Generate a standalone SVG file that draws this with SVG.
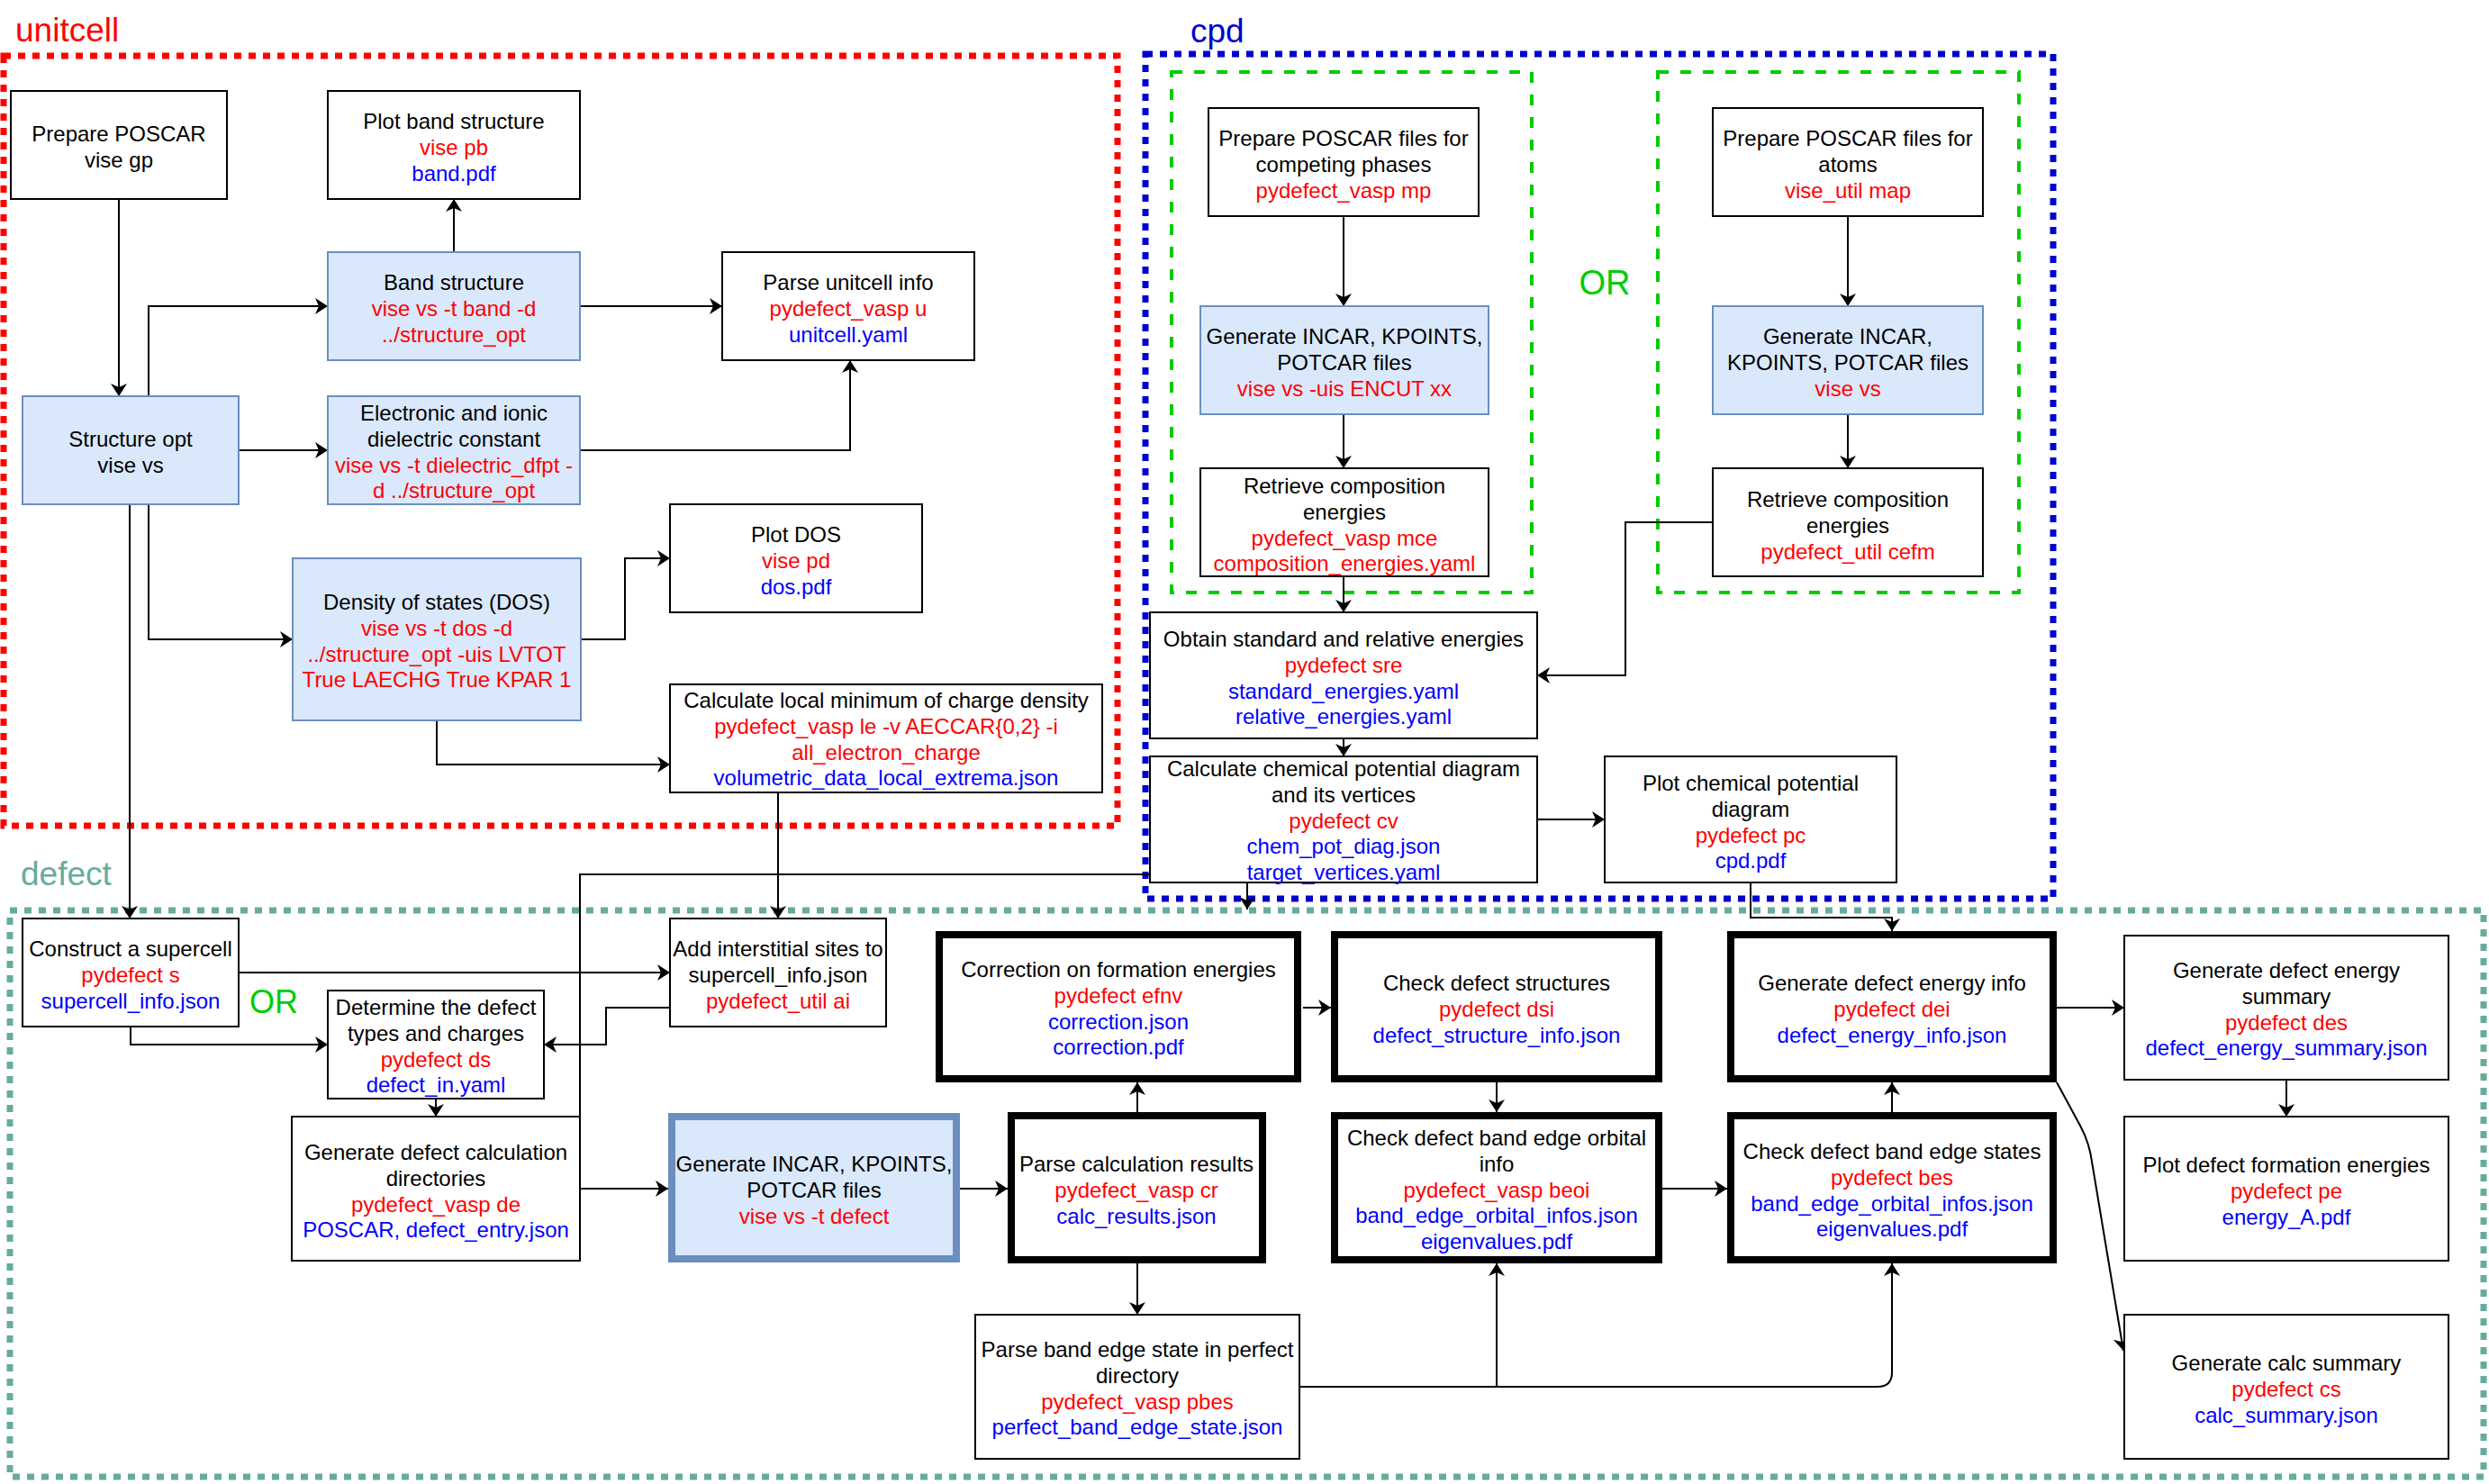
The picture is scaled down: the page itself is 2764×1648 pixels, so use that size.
<svg xmlns="http://www.w3.org/2000/svg" width="2764" height="1648" viewBox="0 0 2764 1648">
<style>
.bx{fill:#fff;stroke:#000;stroke-width:2}
.bl{fill:#DAE8FC;stroke:#6C8EBF;stroke-width:2}
.th{fill:#fff;stroke:#000;stroke-width:8}
.tb{fill:#DAE8FC;stroke:#6C8EBF;stroke-width:8}
text{font-family:"Liberation Sans",Arial,sans-serif;font-size:24px;text-anchor:middle;fill:#000}
.r{fill:#FF0000}
.u{fill:#0000FF}
.c{fill:none;stroke:#000;stroke-width:2}
.ca{fill:none;stroke:#000;stroke-width:2;marker-end:url(#arr)}
.title{font-size:37px;text-anchor:start}
</style>
<defs>
<marker id="arr" markerUnits="userSpaceOnUse" markerWidth="20" markerHeight="20" refX="14" refY="9" orient="auto">
<path d="M0,0 L14,9 L0,18 L4,9 Z" fill="#000"/>
</marker>
</defs>
<rect width="2764" height="1648" fill="#fff"/>

<g id="containers">
<rect x="4" y="62" width="1237" height="855" fill="none" stroke="#FF0000" stroke-width="7" stroke-dasharray="8 8"/>
<rect x="1272" y="60" width="1008" height="938" fill="none" stroke="#0000CC" stroke-width="7" stroke-dasharray="8 8"/>
<rect x="11" y="1011" width="2747" height="629" fill="none" stroke="#67AB9F" stroke-width="7" stroke-dasharray="8 8"/>
<rect x="1301" y="80" width="400" height="578" fill="none" stroke="#00CC00" stroke-width="4" stroke-dasharray="12 13"/>
<rect x="1841" y="80" width="401" height="578" fill="none" stroke="#00CC00" stroke-width="4" stroke-dasharray="12 13"/>
<text class="title" x="17" y="46" style="fill:#FF0000">unitcell</text>
<text class="title" x="1322" y="47" style="fill:#0000CC">cpd</text>
<text class="title" x="23" y="983" style="fill:#67AB9F">defect</text>
<text x="1782" y="327" style="font-size:38px;fill:#00CC00">OR</text>
<text x="304" y="1125" style="font-size:36px;fill:#00CC00">OR</text>
</g>

<g id="connectors">
<path class="ca" d="M132,221 V440"/>
<path class="ca" d="M165,440 V340 H364"/>
<path class="ca" d="M504,280 V221"/>
<path class="ca" d="M265,500 H364"/>
<path class="ca" d="M644,340 H802"/>
<path class="ca" d="M644,500 H944 V400"/>
<path class="ca" d="M165,560 V710 H325"/>
<path class="ca" d="M645,710 H694 V620 H744"/>
<path class="ca" d="M485,800 V849 H744"/>
<path class="ca" d="M144,560 V1020"/>
<path class="ca" d="M864,880 V1020"/>
<path class="ca" d="M1492,240 V340"/>
<path class="ca" d="M1492,460 V520"/>
<path class="ca" d="M2052,240 V340"/>
<path class="ca" d="M2052,460 V520"/>
<path class="ca" d="M1492,640 V680"/>
<path class="ca" d="M1902,580 H1805 V750 H1707"/>
<path class="ca" d="M1492,820 V840"/>
<path class="ca" d="M1707,910 H1782"/>
<path class="ca" d="M1385,980 V1010"/>
<path class="ca" d="M1944,980 V1019 H2101 V1034"/>
<path class="c" d="M644,1240 V971 H1277"/>
<path class="ca" d="M265,1080 H744"/>
<path class="ca" d="M145,1140 V1160 H364"/>
<path class="ca" d="M744,1119 H673 V1160 H604"/>
<path class="ca" d="M484,1220 V1240"/>
<path class="ca" d="M644,1320 H742"/>
<path class="ca" d="M1066,1320 H1119"/>
<path class="ca" d="M1263,1235 V1202"/>
<path class="ca" d="M1263,1403 V1460"/>
<path class="ca" d="M1447,1119 H1478"/>
<path class="ca" d="M1662,1202 V1235"/>
<path class="ca" d="M1846,1320 H1918"/>
<path class="ca" d="M1443,1540 H1662 V1403"/>
<path class="ca" d="M1662,1540 H2085 Q2101,1540 2101,1524 V1403"/>
<path class="ca" d="M2101,1235 V1202"/>
<path class="ca" d="M2284,1119 H2359"/>
<path class="ca" d="M2539,1199 V1240"/>
<path class="ca" d="M2284,1202 L2310,1250 Q2320,1268 2323,1290 L2358,1500"/>
</g>

<g id="n1"><rect class="bx" x="12" y="101" width="240" height="120"/>
<text x="132" y="157">Prepare POSCAR<tspan x="132" dy="28.8">vise gp</tspan></text></g>
<g id="n2"><rect class="bx" x="364" y="101" width="280" height="120"/>
<text x="504" y="143">Plot band structure<tspan x="504" dy="28.8" class="r">vise pb</tspan><tspan x="504" dy="28.8" class="u">band.pdf</tspan></text></g>
<g id="n3"><rect class="bl" x="364" y="280" width="280" height="120"/>
<text x="504" y="322">Band structure<tspan x="504" dy="28.8" class="r">vise vs -t band -d</tspan><tspan x="504" dy="28.8" class="r">../structure_opt</tspan></text></g>
<g id="n4"><rect class="bl" x="25" y="440" width="240" height="120"/>
<text x="145" y="496">Structure opt<tspan x="145" dy="28.8">vise vs</tspan></text></g>
<g id="n5"><rect class="bl" x="364" y="440" width="280" height="120"/>
<text x="504" y="467">Electronic and ionic<tspan x="504" dy="28.8">dielectric constant</tspan><tspan x="504" dy="28.8" class="r">vise vs -t dielectric_dfpt -</tspan><tspan x="504" dy="28.8" class="r">d ../structure_opt</tspan></text></g>
<g id="n6"><rect class="bx" x="802" y="280" width="280" height="120"/>
<text x="942" y="322">Parse unitcell info<tspan x="942" dy="28.8" class="r">pydefect_vasp u</tspan><tspan x="942" dy="28.8" class="u">unitcell.yaml</tspan></text></g>
<g id="n7"><rect class="bl" x="325" y="620" width="320" height="180"/>
<text x="485" y="677">Density of states (DOS)<tspan x="485" dy="28.8" class="r">vise vs -t dos -d</tspan><tspan x="485" dy="28.8" class="r">../structure_opt -uis LVTOT</tspan><tspan x="485" dy="28.8" class="r">True LAECHG True KPAR 1</tspan></text></g>
<g id="n8"><rect class="bx" x="744" y="560" width="280" height="120"/>
<text x="884" y="602">Plot DOS<tspan x="884" dy="28.8" class="r">vise pd</tspan><tspan x="884" dy="28.8" class="u">dos.pdf</tspan></text></g>
<g id="n9"><rect class="bx" x="744" y="760" width="480" height="120"/>
<text x="984" y="786">Calculate local minimum of charge density<tspan x="984" dy="28.8" class="r">pydefect_vasp le -v AECCAR{0,2} -i</tspan><tspan x="984" dy="28.8" class="r">all_electron_charge</tspan><tspan x="984" dy="28.8" class="u">volumetric_data_local_extrema.json</tspan></text></g>

<g id="n10"><rect class="bx" x="1342" y="120" width="300" height="120"/>
<text x="1492" y="162">Prepare POSCAR files for<tspan x="1492" dy="28.8">competing phases</tspan><tspan x="1492" dy="28.8" class="r">pydefect_vasp mp</tspan></text></g>
<g id="n11"><rect class="bl" x="1333" y="340" width="320" height="120"/>
<text x="1493" y="382">Generate INCAR, KPOINTS,<tspan x="1493" dy="28.8">POTCAR files</tspan><tspan x="1493" dy="28.8" class="r">vise vs -uis ENCUT xx</tspan></text></g>
<g id="n12"><rect class="bx" x="1333" y="520" width="320" height="120"/>
<text x="1493" y="548">Retrieve composition<tspan x="1493" dy="28.8">energies</tspan><tspan x="1493" dy="28.8" class="r">pydefect_vasp mce</tspan><tspan x="1493" dy="28.8" class="r">composition_energies.yaml</tspan></text></g>
<g id="n13"><rect class="bx" x="1902" y="120" width="300" height="120"/>
<text x="2052" y="162">Prepare POSCAR files for<tspan x="2052" dy="28.8">atoms</tspan><tspan x="2052" dy="28.8" class="r">vise_util map</tspan></text></g>
<g id="n14"><rect class="bl" x="1902" y="340" width="300" height="120"/>
<text x="2052" y="382">Generate INCAR,<tspan x="2052" dy="28.8">KPOINTS, POTCAR files</tspan><tspan x="2052" dy="28.8" class="r">vise vs</tspan></text></g>
<g id="n15"><rect class="bx" x="1902" y="520" width="300" height="120"/>
<text x="2052" y="563">Retrieve composition<tspan x="2052" dy="28.8">energies</tspan><tspan x="2052" dy="28.8" class="r">pydefect_util cefm</tspan></text></g>
<g id="n16"><rect class="bx" x="1277" y="680" width="430" height="140"/>
<text x="1492" y="718">Obtain standard and relative energies<tspan x="1492" dy="28.8" class="r">pydefect sre</tspan><tspan x="1492" dy="28.8" class="u">standard_energies.yaml</tspan><tspan x="1492" dy="28.8" class="u">relative_energies.yaml</tspan></text></g>
<g id="n17"><rect class="bx" x="1277" y="840" width="430" height="140"/>
<text x="1492" y="862">Calculate chemical potential diagram<tspan x="1492" dy="28.8">and its vertices</tspan><tspan x="1492" dy="28.8" class="r">pydefect cv</tspan><tspan x="1492" dy="28.8" class="u">chem_pot_diag.json</tspan><tspan x="1492" dy="28.8" class="u">target_vertices.yaml</tspan></text></g>
<g id="n18"><rect class="bx" x="1782" y="840" width="324" height="140"/>
<text x="1944" y="878">Plot chemical potential<tspan x="1944" dy="28.8">diagram</tspan><tspan x="1944" dy="28.8" class="r">pydefect pc</tspan><tspan x="1944" dy="28.8" class="u">cpd.pdf</tspan></text></g>

<g id="n19"><rect class="bx" x="25" y="1020" width="240" height="120"/>
<text x="145" y="1062">Construct a supercell<tspan x="145" dy="28.8" class="r">pydefect s</tspan><tspan x="145" dy="28.8" class="u">supercell_info.json</tspan></text></g>
<g id="n20"><rect class="bx" x="744" y="1020" width="240" height="120"/>
<text x="864" y="1062">Add interstitial sites to<tspan x="864" dy="28.8">supercell_info.json</tspan><tspan x="864" dy="28.8" class="r">pydefect_util ai</tspan></text></g>
<g id="n21"><rect class="bx" x="364" y="1100" width="240" height="120"/>
<text x="484" y="1127">Determine the defect<tspan x="484" dy="28.8">types and charges</tspan><tspan x="484" dy="28.8" class="r">pydefect ds</tspan><tspan x="484" dy="28.8" class="u">defect_in.yaml</tspan></text></g>
<g id="n22"><rect class="bx" x="324" y="1240" width="320" height="160"/>
<text x="484" y="1288">Generate defect calculation<tspan x="484" dy="28.8">directories</tspan><tspan x="484" dy="28.8" class="r">pydefect_vasp de</tspan><tspan x="484" dy="28.8" class="u">POSCAR, defect_entry.json</tspan></text></g>
<g id="n23"><rect class="tb" x="746" y="1240" width="316" height="158"/>
<text x="904" y="1301">Generate INCAR, KPOINTS,<tspan x="904" dy="28.8">POTCAR files</tspan><tspan x="904" dy="28.8" class="r">vise vs -t defect</tspan></text></g>
<g id="n24"><rect class="th" x="1043" y="1038" width="398" height="160"/>
<text x="1242" y="1085">Correction on formation energies<tspan x="1242" dy="28.8" class="r">pydefect efnv</tspan><tspan x="1242" dy="28.8" class="u">correction.json</tspan><tspan x="1242" dy="28.8" class="u">correction.pdf</tspan></text></g>
<g id="n25"><rect class="th" x="1482" y="1038" width="360" height="160"/>
<text x="1662" y="1100">Check defect structures<tspan x="1662" dy="28.8" class="r">pydefect dsi</tspan><tspan x="1662" dy="28.8" class="u">defect_structure_info.json</tspan></text></g>
<g id="n26"><rect class="th" x="1922" y="1038" width="358" height="160"/>
<text x="2101" y="1100">Generate defect energy info<tspan x="2101" dy="28.8" class="r">pydefect dei</tspan><tspan x="2101" dy="28.8" class="u">defect_energy_info.json</tspan></text></g>
<g id="n27"><rect class="th" x="1123" y="1239" width="279" height="160"/>
<text x="1262" y="1301">Parse calculation results<tspan x="1262" dy="28.8" class="r">pydefect_vasp cr</tspan><tspan x="1262" dy="28.8" class="u">calc_results.json</tspan></text></g>
<g id="n28"><rect class="th" x="1482" y="1239" width="360" height="160"/>
<text x="1662" y="1272">Check defect band edge orbital<tspan x="1662" dy="28.8">info</tspan><tspan x="1662" dy="28.8" class="r">pydefect_vasp beoi</tspan><tspan x="1662" dy="28.8" class="u">band_edge_orbital_infos.json</tspan><tspan x="1662" dy="28.8" class="u">eigenvalues.pdf</tspan></text></g>
<g id="n29"><rect class="th" x="1922" y="1239" width="358" height="160"/>
<text x="2101" y="1287">Check defect band edge states<tspan x="2101" dy="28.8" class="r">pydefect bes</tspan><tspan x="2101" dy="28.8" class="u">band_edge_orbital_infos.json</tspan><tspan x="2101" dy="28.8" class="u">eigenvalues.pdf</tspan></text></g>
<g id="n30"><rect class="bx" x="1083" y="1460" width="360" height="160"/>
<text x="1263" y="1507">Parse band edge state in perfect<tspan x="1263" dy="28.8">directory</tspan><tspan x="1263" dy="28.8" class="r">pydefect_vasp pbes</tspan><tspan x="1263" dy="28.8" class="u">perfect_band_edge_state.json</tspan></text></g>
<g id="n31"><rect class="bx" x="2359" y="1039" width="360" height="160"/>
<text x="2539" y="1086">Generate defect energy<tspan x="2539" dy="28.8">summary</tspan><tspan x="2539" dy="28.8" class="r">pydefect des</tspan><tspan x="2539" dy="28.8" class="u">defect_energy_summary.json</tspan></text></g>
<g id="n32"><rect class="bx" x="2359" y="1240" width="360" height="160"/>
<text x="2539" y="1302">Plot defect formation energies<tspan x="2539" dy="28.8" class="r">pydefect pe</tspan><tspan x="2539" dy="28.8" class="u">energy_A.pdf</tspan></text></g>
<g id="n33"><rect class="bx" x="2359" y="1460" width="360" height="160"/>
<text x="2539" y="1522">Generate calc summary<tspan x="2539" dy="28.8" class="r">pydefect cs</tspan><tspan x="2539" dy="28.8" class="u">calc_summary.json</tspan></text></g>
</svg>
